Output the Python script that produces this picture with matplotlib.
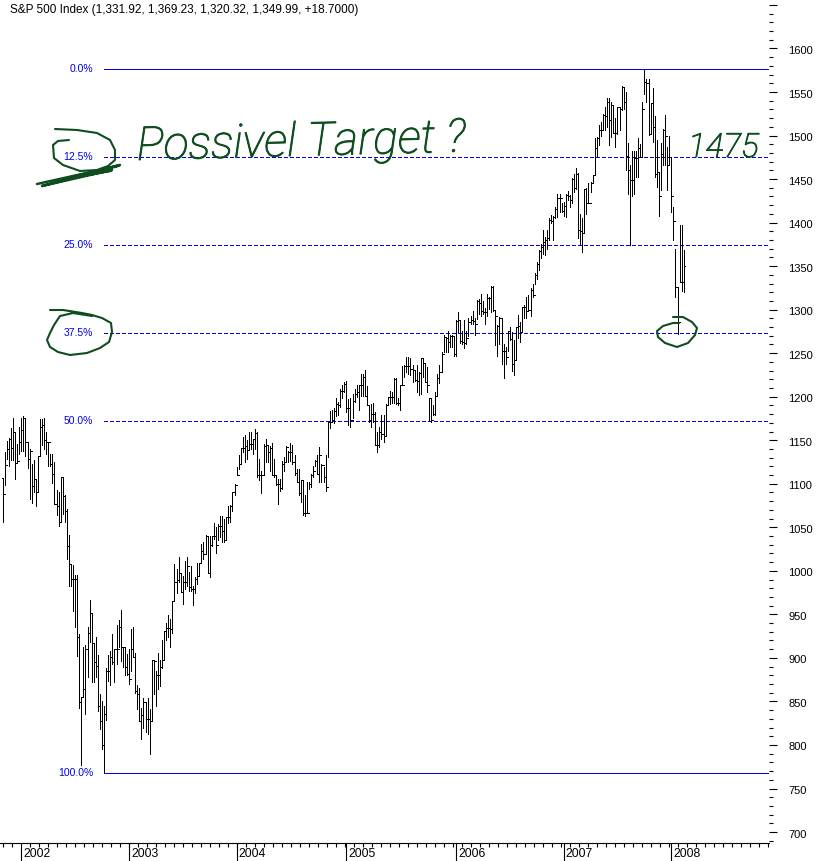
#!/usr/bin/env python3
"""S&P 500 weekly bars with retracement levels and pen notes"""

import numpy as np
import matplotlib
matplotlib.use('Agg')
import matplotlib.pyplot as plt
import matplotlib.patheffects as pe
from matplotlib.transforms import ScaledTranslation

TITLE = "S&P 500 Index (1,331.92, 1,369.23, 1,320.32, 1,349.99, +18.7000)"

first_open = 1107

highs = [
    1107, 1136, 1149, 1153, 1164, 1176, 1159, 1146, 1165, 1175, 1178, 1176, 1148, 1140, 1123, 1127, 1106, 1132, 1174, 1174,
    1175, 1159, 1148, 1134, 1134, 1125, 1093, 1090, 1108, 1108, 1087, 1071, 1041, 1008, 1007, 995, 995, 928, 855, 912,
    915, 935, 966, 952, 917, 924, 903, 859, 851, 845,
    888, 903, 908, 928, 910, 938, 943, 955, 913, 912, 905, 910, 933, 935, 906, 869, 865, 843, 854, 849,
    854, 841, 898, 897, 885, 906, 898, 920, 931, 940, 949, 945, 965, 1008, 1002, 1016, 998, 994, 1011, 1016,
    999, 1006, 983, 993, 1009, 1009, 1031, 1033, 1041, 1040, 1040, 1040, 1055, 1050, 1054, 1063, 1063, 1060, 1062, 1075,
    1076, 1091, 1100,
    1119, 1133, 1141, 1154, 1156, 1150, 1159, 1160, 1152, 1163, 1159, 1128, 1115, 1146, 1152, 1144, 1143, 1147, 1129, 1110,
    1106, 1106, 1126, 1131, 1143, 1138, 1147, 1145, 1133, 1117, 1117, 1104, 1104, 1087, 1102, 1102, 1111, 1121, 1127, 1133,
    1142, 1123, 1119, 1133, 1171, 1184, 1185, 1187, 1198, 1194, 1209, 1214, 1217, 1218, 1197, 1198, 1203, 1209, 1213,
    1214, 1226, 1226, 1231, 1212, 1190, 1192, 1193, 1182, 1160, 1165, 1179, 1179, 1192, 1200, 1207, 1205, 1221, 1221, 1198,
    1214, 1235, 1237, 1246, 1246, 1244, 1237, 1229, 1236, 1228, 1244, 1244, 1239, 1234, 1198, 1198, 1190, 1205, 1226, 1237,
    1251, 1271, 1267, 1276, 1271, 1271, 1270, 1288, 1297, 1288, 1276, 1288, 1276, 1290, 1293, 1298, 1290, 1311, 1312, 1318,
    1310, 1302, 1318, 1315, 1327, 1327, 1298, 1282, 1292, 1290, 1260, 1257,
    1276, 1280, 1274, 1265, 1280, 1294, 1286, 1303, 1305, 1315, 1317, 1325, 1330, 1342, 1355, 1368, 1375, 1391, 1384, 1391,
    1405, 1409, 1408, 1418, 1433, 1433, 1422, 1424, 1433, 1436, 1432, 1451, 1456, 1463, 1457, 1410, 1405, 1439, 1440, 1446,
    1447, 1455,
    1497, 1498, 1512, 1516, 1525, 1533, 1543, 1543, 1539, 1535, 1520, 1533, 1533, 1557, 1556, 1550, 1491, 1466, 1482, 1482,
    1482, 1497, 1490, 1539, 1577, 1565, 1565, 1537, 1555, 1523, 1495, 1458, 1491, 1508, 1524, 1487, 1500, 1475, 1418, 1370,
    1325, 1397, 1397, 1369,
]

lows = [
    1056, 1099, 1129, 1121, 1127, 1127, 1106, 1125, 1134, 1138, 1138, 1132, 1118, 1082, 1078, 1090, 1075, 1090, 1132, 1144,
    1140, 1134, 1121, 1121, 1101, 1077, 1064, 1051, 1056, 1065, 1056, 1014, 983, 983, 954, 936, 902, 843, 777, 855,
    836, 878, 918, 872, 872, 878, 839, 818, 795, 769,
    829, 874, 869, 893, 872, 893, 912, 897, 889, 880, 880, 870, 885, 901, 860, 841, 828, 807, 820, 815,
    813, 790, 828, 858, 845, 864, 868, 888, 898, 920, 924, 913, 929, 965, 974, 987, 976, 962, 979, 983,
    977, 977, 961, 975, 985, 994, 1009, 1014, 1019, 998, 993, 1029, 1037, 1020, 1036, 1039, 1033, 1033, 1036, 1055,
    1056, 1069, 1087,
    1110, 1117, 1123, 1137, 1125, 1129, 1140, 1140, 1134, 1140, 1108, 1104, 1089, 1110, 1125, 1125, 1115, 1110, 1108, 1099,
    1077, 1092, 1094, 1115, 1125, 1125, 1126, 1123, 1110, 1102, 1087, 1079, 1064, 1063, 1067, 1094, 1096, 1108, 1121, 1111,
    1102, 1102, 1102, 1092, 1131, 1164, 1171, 1170, 1178, 1179, 1188, 1198, 1205, 1183, 1168, 1165, 1175, 1194, 1200,
    1185, 1201, 1201, 1201, 1191, 1171, 1165, 1171, 1144, 1137, 1142, 1152, 1148, 1155, 1192, 1192, 1193, 1193, 1192, 1190,
    1185, 1213, 1223, 1228, 1226, 1225, 1217, 1218, 1205, 1202, 1203, 1223, 1217, 1206, 1173, 1171, 1179, 1179, 1201, 1216,
    1228, 1251, 1251, 1251, 1257, 1257, 1247, 1247, 1274, 1262, 1261, 1256, 1261, 1270, 1283, 1284, 1271, 1289, 1295, 1293,
    1295, 1283, 1293, 1301, 1297, 1299, 1259, 1247, 1261, 1238, 1221, 1238,
    1253, 1265, 1230, 1225, 1242, 1267, 1263, 1274, 1291, 1290, 1299, 1293, 1315, 1329, 1335, 1345, 1359, 1364, 1363, 1370,
    1380, 1399, 1380, 1405, 1407, 1412, 1412, 1408, 1407, 1426, 1418, 1422, 1435, 1439, 1382, 1376, 1366, 1388, 1410, 1423,
    1435, 1447,
    1455, 1477, 1489, 1500, 1508, 1506, 1510, 1489, 1498, 1503, 1487, 1502, 1506, 1529, 1531, 1460, 1433, 1374, 1431, 1433,
    1452, 1452, 1475, 1475, 1548, 1539, 1501, 1502, 1493, 1452, 1441, 1408, 1437, 1466, 1466, 1437, 1466, 1412, 1380, 1315,
    1272, 1332, 1322, 1320,
]

closes = [
    1088, 1122, 1140, 1151, 1141, 1159, 1124, 1126, 1148, 1162, 1176, 1148, 1129, 1138, 1098, 1106, 1090, 1132, 1165, 1167,
    1150, 1148, 1148, 1123, 1111, 1077, 1075, 1056, 1108, 1086, 1069, 1029, 1008, 991, 991, 991, 924, 849, 855, 864,
    910, 929, 952, 917, 895, 891, 845, 828, 800, 836,
    885, 885, 901, 895, 910, 910, 936, 913, 913, 889, 882, 876, 910, 901, 862, 859, 828, 834, 849, 830,
    830, 828, 898, 897, 880, 880, 889, 898, 931, 934, 934, 933, 965, 987, 989, 998, 976, 987, 987, 1006,
    981, 979, 979, 991, 994, 1009, 1023, 1019, 1040, 998, 1030, 1040, 1040, 1030, 1052, 1052, 1046, 1036, 1062, 1062,
    1074, 1090, 1099,
    1110, 1123, 1141, 1141, 1143, 1139, 1146, 1146, 1152, 1158, 1110, 1110, 1110, 1143, 1144, 1136, 1141, 1110, 1110, 1100,
    1100, 1095, 1123, 1125, 1142, 1136, 1137, 1125, 1112, 1102, 1089, 1104, 1066, 1066, 1067, 1100, 1110, 1115, 1126, 1111,
    1133, 1122, 1108, 1096, 1171, 1171, 1173, 1184, 1192, 1190, 1207, 1207, 1215, 1187, 1187, 1173, 1195, 1203, 1205,
    1213, 1214, 1223, 1201, 1191, 1173, 1180, 1180, 1145, 1145, 1159, 1157, 1155, 1191, 1200, 1200, 1200, 1220, 1193, 1193,
    1213, 1214, 1235, 1235, 1235, 1232, 1231, 1219, 1218, 1227, 1244, 1239, 1217, 1213, 1198, 1173, 1180, 1201, 1221, 1228,
    1249, 1269, 1267, 1263, 1270, 1270, 1249, 1287, 1288, 1264, 1263, 1262, 1268, 1286, 1288, 1287, 1284, 1310, 1308, 1298,
    1297, 1297, 1313, 1313, 1326, 1300, 1293, 1281, 1290, 1252, 1252, 1246,
    1275, 1266, 1238, 1242, 1280, 1281, 1274, 1303, 1303, 1299, 1300, 1323, 1317, 1340, 1352, 1367, 1372, 1378, 1380, 1382,
    1403, 1402, 1407, 1416, 1428, 1428, 1413, 1419, 1432, 1431, 1426, 1450, 1440, 1456, 1391, 1390, 1388, 1439, 1422, 1423,
    1446, 1455,
    1486, 1497, 1506, 1506, 1524, 1523, 1539, 1518, 1535, 1503, 1503, 1533, 1531, 1556, 1539, 1477, 1460, 1449, 1449, 1474,
    1474, 1486, 1475, 1530, 1561, 1560, 1502, 1537, 1510, 1456, 1458, 1430, 1479, 1506, 1500, 1466, 1475, 1431, 1402, 1326,
    1286, 1332, 1332, 1350,
]

# retracement levels
fib_labels = ["0.0%", "12.5%", "25.0%", "37.5%", "50.0%", "100.0%"]
fib_values = [1576, 1475, 1374, 1273, 1172, 768]

# year labels and the week each one starts on
year_labels = ["2002", "2003", "2004", "2005", "2006", "2007", "2008"]
year_weeks = [9, 61, 113, 166, 219, 271, 323]

INK = '#0f4d20'
BLUE = '#0000e6'
FONT = 'Liberation Sans'
W, H = 817, 861

fig = plt.figure(figsize=(W / 100, H / 100), dpi=100)
fig.patch.set_facecolor('white')

# axes runs from the left edge to x=769 px and down to y=843 px
ax = fig.add_axes([0, (H - 843) / H, 769 / W, 843 / H])
ax.set_xlim(-1.3, 370.2)
ax.set_ylim(687.4, 1655.7)
for side in ('top', 'left', 'right'):
    ax.spines[side].set_visible(False)
ax.spines['bottom'].set_linewidth(0.8)

week = np.arange(len(closes))
opens = np.array([first_open] + closes[:-1])
bar_style = dict(color='black', lw=0.72, antialiased=False, zorder=3)
ax.vlines(week, lows, highs, **bar_style)
ax.hlines(opens, week - 0.5, week, **bar_style)
ax.hlines(closes, week, week + 0.5, **bar_style)

# levels start at the 2002 low and run to the price scale
start = 49
for label, value in zip(fib_labels, fib_values):
    style = '-' if label in ("0.0%", "100.0%") else (0, (3.6, 2.8))
    ax.plot([start, 370.2], [value, value], color=BLUE, lw=0.72, ls=style,
            antialiased=False, zorder=2)
    ax.annotate(label, xy=(93, value), xycoords=('figure pixels', 'data'),
                ha='right', va='center', color=BLUE, fontsize=7.5, family=FONT)

# price scale
ax.yaxis.tick_right()
ax.set_yticks(np.arange(700, 1651, 50))
ax.set_yticks(np.arange(690, 1651, 10), minor=True)
ax.set_yticklabels([str(v) if v <= 1600 else "" for v in range(700, 1651, 50)],
                   family=FONT, fontsize=8)
ax.tick_params(axis='y', which='major', length=5.8, width=0.8, pad=8)
ax.tick_params(axis='y', which='minor', length=3.2, width=0.8)
# the numbers sit a little under their ticks
nudge = ScaledTranslation(0, -1.5 / 100, fig.dpi_scale_trans)
for tick_label in ax.get_yticklabels():
    tick_label.set_transform(tick_label.get_transform() + nudge)

# time scale: one long tick per year, short ones for the months
ax.set_xticks(year_weeks)
ax.set_xticklabels([])
month_ticks = np.arange(year_weeks[0] - 2 * 4.35, 370, 52.18 / 12)
ax.set_xticks(month_ticks, minor=True)
ax.tick_params(axis='x', which='major', length=13, width=0.8)
ax.tick_params(axis='x', which='minor', length=3, width=0.8)
for label, wk in zip(year_labels, year_weeks):
    ax.annotate(label, xy=(wk, 687.4), xycoords='data', xytext=(1.5, -8.2),
                textcoords='offset points', ha='left', va='center',
                family=FONT, fontsize=8.8)

# overlay in pixels for the header and the pen notes
over = fig.add_axes([0, 0, 1, 1])
over.set_xlim(0, W)
over.set_ylim(H, 0)
over.axis('off')
over.patch.set_alpha(0)

over.text(10, 10, TITLE, family=FONT, fontsize=8.5, va='center', ha='left')


def pen(points, lw=1.5):
    xs, ys = zip(*points)
    over.plot(xs, ys, color=INK, lw=lw, solid_capstyle='round', solid_joinstyle='round')


pen([(55, 129), (77, 130), (97, 133), (110, 140), (115, 150), (115, 160), (108, 166), (97, 170),
     (80, 171), (63, 165), (54, 158), (53, 145), (58, 141), (69, 140)])
pen([(37, 184), (118, 166), (42, 186), (112, 170), (60, 180), (120, 165), (70, 178), (110, 171)], lw=1.8)
pen([(50, 310), (63, 310), (82, 313), (92, 315), (102, 318), (111, 323), (112, 332), (109, 342),
     (100, 348), (87, 353), (70, 355), (58, 352), (50, 347), (47, 340), (50, 333), (54, 325),
     (60, 316), (73, 313), (92, 316)])
pen([(673, 317), (683, 317), (692, 322), (697, 328), (695, 335), (688, 343), (677, 347), (665, 343),
     (658, 337), (657, 331), (663, 326), (673, 323), (679, 323)])

# handwritten notes: thin letters with a small stroke so they read like a pen
pen_line = [pe.withStroke(linewidth=0.7, foreground=INK)]
over.text(137, 160, "Possivel Target ?", family='Roboto', weight='light', style='italic',
          color=INK, fontsize=33.5, rotation=1.5, rotation_mode='anchor',
          va='baseline', ha='left', path_effects=pen_line)
over.text(688, 157, "1475", family='Roboto', weight='light', style='italic', color=INK,
          fontsize=24, va='baseline', ha='left', path_effects=pen_line)

fig.savefig('out.png', dpi=100)
